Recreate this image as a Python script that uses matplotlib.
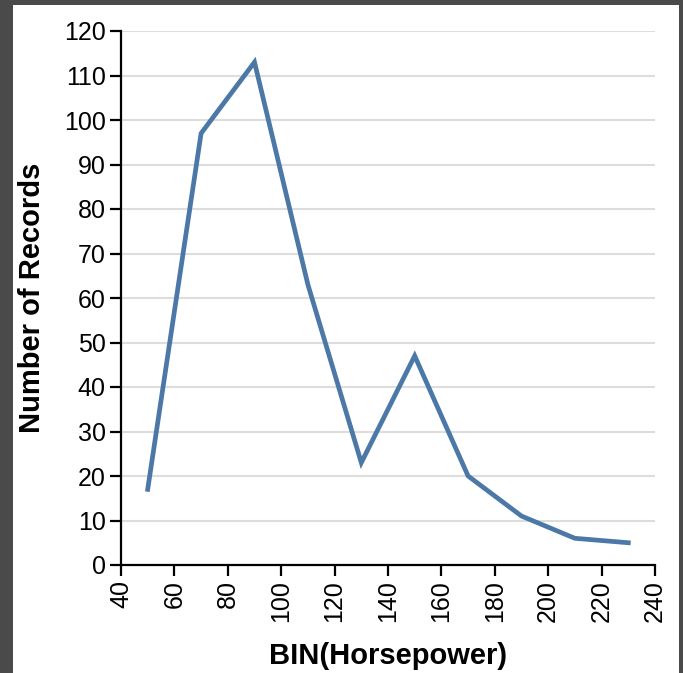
import matplotlib
matplotlib.use("Agg")
import matplotlib.pyplot as plt
from matplotlib.patches import Rectangle

# Data
horsepower_bins = [50, 70, 90, 110, 130, 150, 170, 190, 210, 230]
record_counts = [17, 97, 113, 63, 23, 47, 20, 11, 6, 5]
x_ticks = list(range(40, 241, 20))
y_ticks = list(range(0, 121, 10))

plt.rcParams['font.family'] = ['Liberation Sans', 'DejaVu Sans']

W, H = 683, 673
fig = plt.figure(figsize=(W / 100, H / 100), dpi=100, facecolor='#4a4a4a')
fig.patches.append(Rectangle((13 / W, 0), (679 - 13) / W, (673 - 5) / H,
                             transform=fig.transFigure, facecolor='white',
                             edgecolor='none', zorder=-10))

ax = fig.add_axes([121 / W, 1 - 565 / H, (655 - 121) / W, (565 - 31) / H])
ax.set_facecolor('none')
ax.set_zorder(5)

ax.plot(horsepower_bins, record_counts, color='#4c78a8', lw=3.4,
        solid_joinstyle='miter', zorder=3)

ax.set_xlim(40, 240)
ax.set_ylim(0, 120)
ax.set_xticks(x_ticks)
ax.set_yticks(y_ticks)
ax.set_xticklabels([str(v) for v in x_ticks], rotation=90, fontsize=18)
ax.set_yticklabels([str(v) for v in y_ticks], fontsize=18)

ax.yaxis.grid(True, color='#dddddd', lw=1.5)
ax.xaxis.grid(False)
ax.set_axisbelow(True)

for s in ['top', 'right']:
    ax.spines[s].set_visible(False)
for s in ['left', 'bottom']:
    ax.spines[s].set_linewidth(1.6)
    ax.spines[s].set_color('black')
ax.tick_params(axis='both', direction='out', length=8, width=1.6, color='black', pad=3)

ax.set_xlabel('BIN(Horsepower)', fontsize=21, fontweight='bold', labelpad=14)
ax.set_ylabel('Number of Records', fontsize=21, fontweight='bold', labelpad=13)

fig.savefig('out.png', dpi=100, facecolor=fig.get_facecolor())
